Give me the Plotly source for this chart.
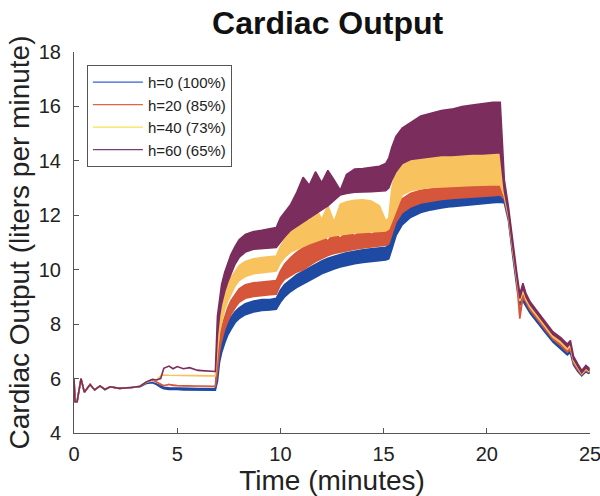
import plotly.graph_objects as go

# Sample times (minutes)
TIME = [
    0.0, 0.05, 0.15, 0.34, 0.5, 0.78, 1.0, 1.26, 1.5, 1.75,
    2.2, 2.8, 3.2, 3.5, 3.8, 4.0, 4.2, 4.35, 4.6, 4.8,
    5.0, 5.3, 5.6, 6.0, 6.4, 6.85, 6.95, 7.05, 7.15, 7.3,
    7.45, 7.6, 7.8, 8.0, 8.3, 8.7, 9.1, 9.5, 9.8, 10.0,
    10.2, 10.5, 10.8, 11.1, 11.4, 11.7, 12.0, 12.3, 12.6, 12.9,
    13.2, 13.6, 14.0, 14.4, 14.8, 15.1, 15.25, 15.4, 15.6, 15.9,
    16.3, 16.8, 17.3, 17.8, 18.3, 18.8, 19.3, 19.8, 20.3, 20.65,
    20.85, 21.05, 21.25, 21.45, 21.6, 21.75, 21.9, 22.1, 22.4, 22.8,
    23.2, 23.6, 23.9, 24.05, 24.2, 24.4, 24.6, 24.8, 24.95,
]

# Start-up transient shared by every case (L/min)
EARLY = [6.0, 5.15, 5.15, 6.0, 5.5, 5.78, 5.58, 5.73, 5.6, 5.7]

# Lower / upper envelope of the pulsatile cardiac output for each case (L/min)
H0_LO = EARLY + [
    5.64, 5.67, 5.7, 5.82, 5.85, 5.78, 5.68, 5.63, 5.6, 5.6,
    5.6, 5.58, 5.58, 5.57, 5.57, 5.57, 5.9, 6.6, 6.95, 7.3,
    7.6, 7.8, 8.05, 8.2, 8.35, 8.45, 8.5, 8.52, 8.55, 8.8,
    9.0, 9.2, 9.35, 9.48, 9.6, 9.72, 9.85, 9.95, 10.03, 10.1,
    10.16, 10.22, 10.27, 10.31, 10.34, 10.36, 10.4, 10.75, 11.25, 11.65,
    11.92, 12.1, 12.2, 12.27, 12.32, 12.36, 12.4, 12.43, 12.46, 12.48,
    12.45, 11.8, 10.55, 9.4, 8.7, 8.85, 8.65, 8.4, 8.12, 7.72,
    7.35, 7.08, 6.87, 6.95, 6.5, 6.27, 6.1, 6.25, 6.18,
]
H0_HI = EARLY + [
    5.64, 5.67, 5.7, 5.82, 5.85, 5.8, 5.72, 5.68, 5.66, 5.66,
    5.66, 5.64, 5.64, 5.63, 5.63, 5.63, 6.5, 7.1, 7.45, 7.8,
    8.05, 8.25, 8.45, 8.6, 8.75, 8.85, 8.9, 8.9, 8.95, 9.25,
    9.45, 9.65, 9.82, 9.95, 10.08, 10.2, 10.32, 10.42, 10.5, 10.56,
    10.62, 10.68, 10.73, 10.77, 10.8, 10.82, 10.9, 11.3, 11.75, 12.05,
    12.28, 12.42, 12.5, 12.56, 12.6, 12.63, 12.67, 12.7, 12.73, 12.75,
    12.7, 12.0, 10.7, 9.55, 8.85, 9.0, 8.77, 8.5, 8.22, 7.82,
    7.45, 7.18, 6.97, 7.05, 6.6, 6.37, 6.18, 6.33, 6.26,
]

H20_LO = EARLY + [
    5.64, 5.67, 5.72, 5.86, 5.95, 5.88, 5.78, 5.74, 5.78, 5.75,
    5.74, 5.73, 5.73, 5.72, 5.72, 5.72, 6.3, 7.0, 7.4, 7.8,
    8.1, 8.35, 8.6, 8.8, 8.95, 9.02, 9.05, 9.08, 9.1, 9.45,
    9.65, 9.8, 9.92, 10.0, 10.15, 10.3, 10.42, 10.52, 10.6, 10.65,
    10.7, 10.75, 10.8, 10.84, 10.88, 10.9, 10.95, 11.3, 11.75, 12.1,
    12.3, 12.45, 12.52, 12.58, 12.62, 12.65, 12.68, 12.7, 12.72, 12.75,
    12.6, 11.9, 10.7, 9.55, 8.2, 9.0, 8.8, 8.52, 8.24, 7.84,
    7.45, 7.2, 6.97, 7.08, 6.57, 6.33, 6.14, 6.3, 6.22,
]
H20_HI = EARLY + [
    5.64, 5.67, 5.72, 5.86, 5.95, 5.88, 5.78, 5.74, 5.78, 5.75,
    5.74, 5.73, 5.73, 5.72, 5.72, 5.72, 6.8, 7.5, 7.9, 8.3,
    8.6, 8.85, 9.1, 9.3, 9.45, 9.52, 9.55, 9.58, 9.6, 9.95,
    10.2, 10.45, 10.65, 10.8, 11.2, 10.95, 11.3, 11.05, 11.4, 11.15,
    11.45, 11.25, 11.5, 11.3, 11.45, 11.4, 11.45, 11.85, 12.3, 12.6,
    12.8, 12.92, 12.98, 13.02, 13.05, 13.08, 13.1, 13.12, 13.14, 13.15,
    12.85, 12.1, 10.85, 9.7, 8.35, 9.15, 8.92, 8.62, 8.34, 7.94,
    7.55, 7.3, 7.07, 7.18, 6.67, 6.43, 6.22, 6.38, 6.3,
]

H40_LO = EARLY + [
    5.64, 5.67, 5.72, 5.87, 5.96, 5.95, 6.1, 6.13, 6.12, 6.12,
    6.12, 6.11, 6.11, 6.1, 6.1, 6.1, 7.0, 7.7, 8.1, 8.55,
    8.85, 9.1, 9.4, 9.6, 9.75, 9.85, 9.9, 9.92, 9.95, 10.25,
    10.45, 10.65, 10.75, 10.85, 10.95, 11.05, 11.12, 11.2, 11.25, 11.3,
    11.32, 11.35, 11.37, 11.38, 11.4, 11.42, 11.5, 11.8, 12.2, 12.75,
    12.9, 12.98, 13.02, 13.05, 13.06, 13.08, 13.1, 13.1, 13.12, 13.12,
    12.7, 12.0, 10.8, 9.65, 8.85, 9.2, 8.9, 8.62, 8.33, 7.93,
    7.53, 7.3, 7.07, 7.2, 6.65, 6.4, 6.18, 6.35, 6.26,
]
H40_HI = EARLY + [
    5.64, 5.67, 5.72, 5.87, 5.96, 5.95, 6.1, 6.13, 6.12, 6.12,
    6.12, 6.11, 6.11, 6.1, 6.1, 6.1, 7.6, 8.3, 8.7, 9.1,
    9.45, 9.7, 9.95, 10.15, 10.3, 10.4, 10.45, 10.47, 10.5, 10.85,
    11.1, 11.5, 11.9, 12.2, 11.75, 12.3, 11.85, 12.35, 11.75, 12.4,
    12.5, 12.55, 12.57, 12.52, 12.35, 11.8, 11.9, 13.0, 13.7, 14.05,
    14.15, 14.2, 14.22, 14.25, 14.25, 14.27, 14.28, 14.3, 14.32, 14.3,
    13.0, 12.2, 10.95, 9.8, 9.0, 9.35, 9.02, 8.72, 8.43, 8.03,
    7.63, 7.4, 7.17, 7.3, 6.75, 6.5, 6.26, 6.43, 6.34,
]

H60_LO = EARLY + [
    5.64, 5.67, 5.72, 5.88, 5.97, 5.95, 6.0, 6.38, 6.46, 6.36,
    6.44, 6.36, 6.4, 6.3, 6.28, 6.26, 7.6, 8.3, 8.75, 9.2,
    9.55, 9.85, 10.2, 10.45, 10.65, 10.75, 10.78, 10.8, 10.82, 11.0,
    11.2, 11.45, 11.6, 11.75, 11.9, 12.05, 12.2, 12.35, 12.55, 12.75,
    12.8, 12.85, 12.86, 12.87, 12.88, 12.9, 13.0, 13.3, 13.6, 13.9,
    14.05, 14.1, 14.15, 14.2, 14.2, 14.22, 14.25, 14.25, 14.28, 14.3,
    12.9, 12.1, 10.9, 9.75, 8.95, 9.35, 9.0, 8.72, 8.42, 8.02,
    7.62, 7.4, 7.17, 7.3, 6.72, 6.45, 6.22, 6.4, 6.3,
]
H60_HI = EARLY + [
    5.64, 5.67, 5.72, 5.88, 5.97, 5.95, 6.0, 6.38, 6.46, 6.36,
    6.44, 6.36, 6.4, 6.3, 6.28, 6.26, 8.3, 9.0, 9.45, 9.9,
    10.25, 10.55, 10.85, 11.1, 11.3, 11.4, 11.45, 11.5, 11.55, 11.9,
    12.1, 12.4, 12.85, 13.4, 13.1, 13.6, 13.2, 13.65, 13.3, 12.92,
    13.5, 13.7, 13.72, 13.75, 13.8, 13.9, 14.1, 14.5, 14.9, 15.2,
    15.4, 15.65, 15.75, 15.85, 15.9, 16.0, 16.05, 16.1, 16.15, 16.15,
    13.3, 12.3, 11.05, 9.9, 9.1, 9.5, 9.12, 8.82, 8.52, 8.12,
    7.72, 7.5, 7.27, 7.4, 6.82, 6.55, 6.3, 6.48, 6.38,
]

NAMES = ["h=0 (100%)", "h=20 (85%)", "h=40 (73%)", "h=60 (65%)"]
BAND_COLORS = ["#1f4aa3", "#d5563a", "#f8c25e", "#7b2d5e"]
LEGEND_COLORS = ["#3a5fd0", "#e8604a", "#f6e24e", "#7e3c70"]

X_TICKS = [0, 5, 10, 15, 20, 25]
Y_TICKS = [4, 6, 8, 10, 12, 14, 16, 18]

FONT = "Liberation Sans, Arial, Helvetica, sans-serif"

bands = [(H0_LO, H0_HI), (H20_LO, H20_HI), (H40_LO, H40_HI), (H60_LO, H60_HI)]

fig = go.Figure()

# Each case is drawn as a filled band between its lower and upper envelope
for (lo, hi), color in zip(bands, BAND_COLORS):
    fig.add_trace(go.Scatter(
        x=TIME + TIME[::-1],
        y=hi + lo[::-1],
        mode="lines",
        fill="toself",
        fillcolor=color,
        line=dict(color=color, width=1.6),
        showlegend=False,
        hoverinfo="skip",
    ))

# Legend entries as thin line samples
for name, color in zip(NAMES, LEGEND_COLORS):
    fig.add_trace(go.Scatter(
        x=[None], y=[None], mode="lines", name=name,
        line=dict(color=color, width=1.2),
    ))

axis_common = dict(
    showgrid=False,
    zeroline=False,
    showline=True,
    linecolor="#555555",
    linewidth=1,
    ticks="inside",
    ticklen=5,
    tickcolor="#555555",
    tickfont=dict(family=FONT, size=20, color="#222222"),
    ticklabeloverflow="allow",
    automargin=False,
    mirror=False,
)

fig.update_layout(
    width=600,
    height=496,
    margin=dict(l=74, r=10, t=52, b=63),
    paper_bgcolor="white",
    plot_bgcolor="white",
    font=dict(family=FONT, color="#222222"),
    title=dict(
        text="<b>Cardiac Output</b>",
        font=dict(family=FONT, size=32, color="#111111"),
        x=0.546, xanchor="center",
        y=0.955, yanchor="middle",
    ),
    xaxis=dict(
        range=[0, 25],
        tickvals=X_TICKS,
        ticklabelstandoff=3,
        title=dict(text="Time (minutes)", font=dict(family=FONT, size=28), standoff=2),
        **axis_common,
    ),
    yaxis=dict(
        range=[4, 18],
        tickvals=Y_TICKS,
        ticklabelstandoff=8,
        title=dict(text="Cardiac Output (liters per minute)", font=dict(family=FONT, size=28), standoff=0),
        **axis_common,
    ),
    legend=dict(
        x=0.025, y=0.966, xanchor="left", yanchor="top",
        bgcolor="white",
        bordercolor="#555555",
        borderwidth=1,
        font=dict(family=FONT, size=15, color="#222222"),
        tracegroupgap=0,
        itemwidth=50,
    ),
)

fig.write_html("out.html")
